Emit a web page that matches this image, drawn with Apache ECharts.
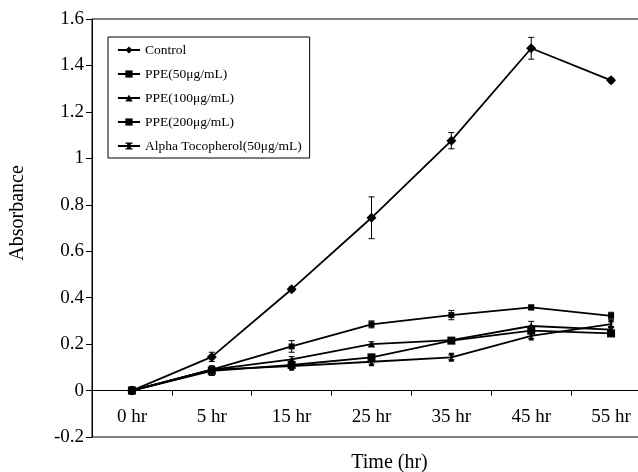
<!DOCTYPE html>
<html>
<head>
<meta charset="utf-8">
<script src="https://cdn.jsdelivr.net/npm/echarts@6/dist/echarts.min.js"></script>
<style>
  html, body { margin: 0; padding: 0; background: #fff; }
  #chart { width: 638px; height: 472px; }
</style>
</head>
<body>
<div id="chart"></div>
<script>
// categories and values
const timeLabels = ["0 hr", "5 hr", "15 hr", "25 hr", "35 hr", "45 hr", "55 hr"];

const seriesNames = ["Control", "PPE(50μg/mL)", "PPE(100μg/mL)", "PPE(200μg/mL)", "Alpha Tocopherol(50μg/mL)"];

const control = [0, 0.145, 0.436, 0.744, 1.076, 1.474, 1.336];
const ppe50 = [0, 0.09, 0.19, 0.285, 0.325, 0.358, 0.322];
const ppe100 = [0, 0.09, 0.134, 0.2, 0.217, 0.278, 0.262];
const ppe200 = [0, 0.085, 0.11, 0.143, 0.215, 0.258, 0.246];
const alpha = [0, 0.09, 0.105, 0.124, 0.143, 0.235, 0.286];

// standard errors (half bar height)
const controlErr = [0.008, 0.02, 0.01, 0.09, 0.035, 0.047, 0.01];
const ppe50Err = [0, 0.012, 0.025, 0.015, 0.02, 0.01, 0.015];
const ppe100Err = [0, 0.01, 0.012, 0.01, 0.01, 0.02, 0.01];
const ppe200Err = [0, 0.02, 0.01, 0.01, 0.01, 0.01, 0.01];
const alphaErr = [0, 0.012, 0.01, 0.01, 0.01, 0.01, 0.01];

const yTicks = { min: -0.2, max: 1.6, step: 0.2 };

const FONT = "Liberation Serif";
const myChart = echarts.init(document.getElementById("chart"));

const allValues = [control, ppe50, ppe100, ppe200, alpha];
const allErrors = [controlErr, ppe50Err, ppe100Err, ppe200Err, alphaErr];
const symbols = ["diamond", "rect", "triangle", "rect", "path://M0,0H4V2H3V8H4V10H0V8H1V2H0Z"];
const symbolSizes = [10, 6, 7, 8, [5, 9]];

function errorBars(vals, errs) {
  return vals.map((v, i) => [i, v - errs[i], v + errs[i]]);
}

function renderErr(params, api) {
  const x = api.value(0);
  const lo = api.coord([x, api.value(1)]);
  const hi = api.coord([x, api.value(2)]);
  if (Math.abs(lo[1] - hi[1]) < 2) return null;
  const w = 3;
  const st = { stroke: "#000", lineWidth: 1 };
  return {
    type: "group",
    children: [
      { type: "line", shape: { x1: lo[0], y1: lo[1], x2: hi[0], y2: hi[1] }, style: st },
      { type: "line", shape: { x1: lo[0] - w, y1: lo[1], x2: lo[0] + w, y2: lo[1] }, style: st },
      { type: "line", shape: { x1: hi[0] - w, y1: hi[1], x2: hi[0] + w, y2: hi[1] }, style: st },
    ],
  };
}

const series = [];
allValues.forEach((vals, k) => {
  series.push({
    name: seriesNames[k],
    type: "line",
    data: vals,
    symbol: symbols[k],
    symbolSize: symbolSizes[k],
    showAllSymbol: true,
    lineStyle: { color: "#000", width: 1.8 },
    itemStyle: { color: "#000" },
    animation: false,
    z: 3,
  });
  series.push({
    type: "custom",
    renderItem: renderErr,
    data: errorBars(vals, allErrors[k]),
    silent: true,
    animation: false,
    z: 2,
  });
});

const option = {
  backgroundColor: "#fff",
  textStyle: { fontFamily: FONT },
  grid: {
    left: 92,
    top: 19,
    width: 559,
    height: 418,
    outerBoundsMode: "none",
    containLabel: false,
    show: true,
    borderColor: "#000",
    borderWidth: 1,
  },
  legend: {
    data: seriesNames,
    orient: "vertical",
    left: 108,
    top: 37,
    itemGap: 10,
    itemWidth: 22,
    itemHeight: 9,
    padding: [6, 8, 5, 9],
    borderColor: "#000",
    borderWidth: 1,
    textStyle: { fontFamily: FONT, fontSize: 13.5, color: "#000" },
  },
  xAxis: {
    type: "category",
    data: timeLabels,
    boundaryGap: true,
    name: "Time (hr)",
    nameLocation: "middle",
    nameGap: 16,
    nameTextStyle: { fontFamily: FONT, fontSize: 20, color: "#000", padding: [0, 0, 0, 36] },
    axisLine: { onZero: true, lineStyle: { color: "#000", width: 1 } },
    axisTick: { show: true, length: 5, inside: false, alignWithLabel: false, lineStyle: { color: "#000" } },
    axisLabel: { fontFamily: FONT, fontSize: 19, color: "#000", margin: -29 },
    splitLine: { show: false },
  },
  yAxis: {
    type: "value",
    min: yTicks.min,
    max: yTicks.max,
    interval: yTicks.step,
    name: "Absorbance",
    nameLocation: "middle",
    nameGap: 64,
    nameTextStyle: { fontFamily: FONT, fontSize: 20, color: "#000", padding: [0, 0, 0, 30] },
    axisLine: { show: true, lineStyle: { color: "#000", width: 1 } },
    axisTick: { show: true, length: 6, lineStyle: { color: "#000" } },
    axisLabel: { fontFamily: FONT, fontSize: 19, color: "#000", margin: 8 },
    splitLine: { show: false },
  },
  series: series,
};

myChart.setOption(option);
</script>
</body>
</html>
